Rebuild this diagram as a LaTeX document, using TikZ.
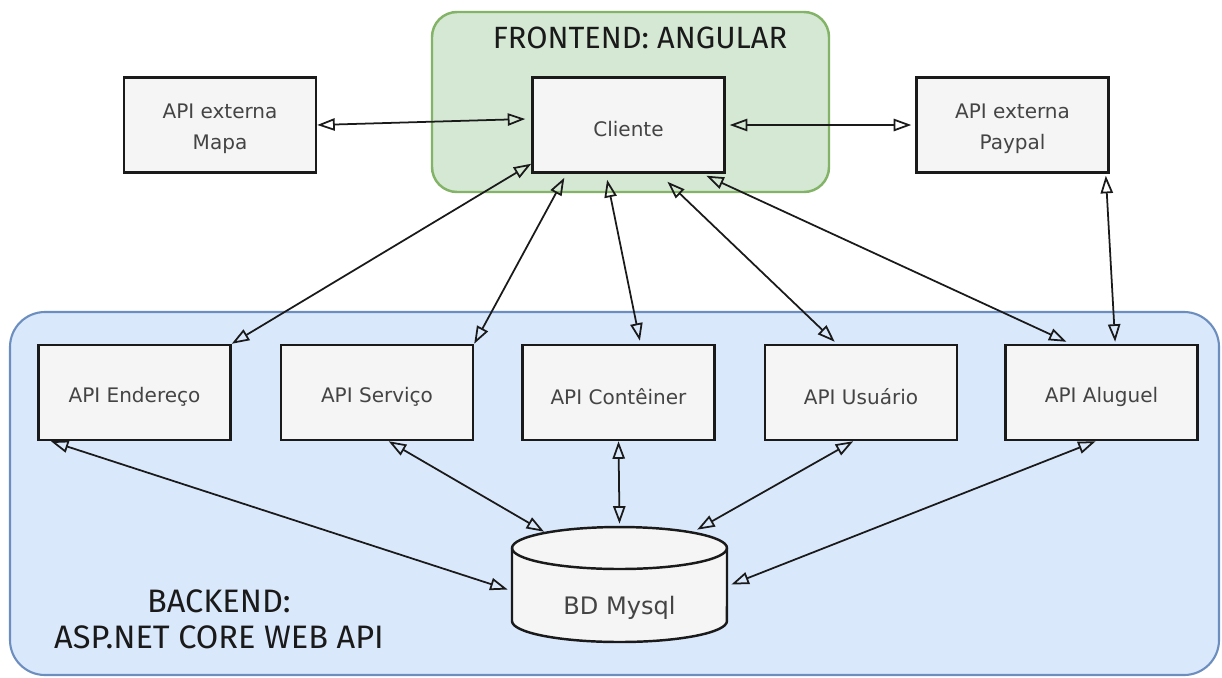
\documentclass[tikz,border=0pt]{standalone}
\usepackage{fontspec}
\setmainfont{DejaVu Sans}
\newfontfamily\handfont{Fira Sans}
\usetikzlibrary{arrows.meta,calc}
\definecolor{grfill}{HTML}{D5E8D4}
\definecolor{grline}{HTML}{82B366}
\definecolor{blfill}{HTML}{DAE8FC}
\definecolor{blline}{HTML}{6C8EBF}
\definecolor{boxfill}{HTML}{F5F5F5}
\definecolor{txt}{HTML}{444444}
\definecolor{ink}{HTML}{1A1A1A}
\tikzset{
  apibox/.style={draw=ink, fill=boxfill, line width=1.4pt, minimum width=3.84cm, minimum height=1.9cm,
    inner sep=0pt, align=center, text=txt, font=\fontsize{11.4pt}{17.6pt}\selectfont},
  boxtext/.style={text=txt, align=center, inner sep=0pt, font=\fontsize{11.4pt}{17.6pt}\selectfont},
  conn/.style={draw=ink, line width=1pt, {Triangle[open,length=10pt,width=7pt]}-{Triangle[open,length=10pt,width=7pt]}},
  title/.style={font=\handfont\fontsize{17.5pt}{20pt}\selectfont, text=ink, align=center, inner sep=0pt},
}
\begin{document}
\begin{tikzpicture}[x=0.02cm,y=-0.02cm]
\useasboundingbox (0,0) rectangle (1222,677);
% containers
\draw[fill=blfill, draw=blline, line width=1.2pt, rounded corners=0.7cm] (10,312) rectangle (1219,675);
\draw[fill=grfill, draw=grline, line width=1.4pt, rounded corners=0.5cm] (432,12) rectangle (829,192);
\node[title] (ftitle) at (640,38) {FRONTEND: ANGULAR};
\node[title, font=\handfont\fontsize{18.5pt}{20.5pt}\selectfont] (btitle) at (219,619) {BACKEND:\\ASP.NET CORE WEB API};
% boxes
\node[apibox] (cli) at (628.5,125) {};
\node[apibox] (mapa) at (220,125) {};
\node[apibox] (paypal) at (1012.5,125) {};
\node[apibox] (end) at (134.5,392.5) {};
\node[apibox] (serv) at (377,392.5) {};
\node[apibox] (cont) at (618.5,392.5) {};
\node[apibox] (usu) at (861,392.5) {};
\node[apibox] (alu) at (1101.5,392.5) {};
\node[boxtext] (clit) at ($(cli)+(0,4)$) {Cliente};
\node[boxtext] (mapat) at ($(mapa)+(0,4)$) {API externa\\Mapa};
\node[boxtext] (paypalt) at ($(paypal)+(0,4)$) {API externa\\Paypal};
\node[boxtext] (endt) at ($(end)+(0,4)$) {API Endereço};
\node[boxtext] (servt) at ($(serv)+(0,4)$) {API Serviço};
\node[boxtext] (contt) at ($(cont)+(0,4)$) {API Contêiner};
\node[boxtext] (usut) at ($(usu)+(0,4)$) {API Usuário};
\node[boxtext] (alut) at ($(alu)+(0,4)$) {API Aluguel};
% database cylinder
\path[fill=boxfill, draw=ink, line width=1.4pt] (512,548) -- (512,621) arc[start angle=180, end angle=360, x radius=2.15cm, y radius=0.42cm] -- (727,548) arc[start angle=0, end angle=180, x radius=2.15cm, y radius=0.42cm] -- cycle;
\draw[ink, line width=1.4pt] (512,548) arc[start angle=180, end angle=360, x radius=2.15cm, y radius=0.42cm];
\node[minimum width=4.3cm, minimum height=2.3cm, inner sep=0pt] (bd) at (619.5,584.5) {};
\node[text=txt, font=\fontsize{13.7pt}{16pt}\selectfont] (bdlabel) at (619.5,608) {BD Mysql};
% connectors
\draw[conn] (mapa.east) -- ($(cli.west)+(-6,-6)$);
\draw[conn] ($(cli.east)+(4,0)$) -- ($(paypal.west)+(-4,0)$);
\draw[conn] ($(cli.south west)+(0,-10)$) -- (end.north east);
\draw[conn] ($(cli.south west)!0.17!(cli.south east)+(0,4)$) -- (serv.north east);
\draw[conn] ($(cli.south west)!0.39!(cli.south east)+(0,6)$) -- ($(cont.north west)!0.61!(cont.north east)+(0,-3)$);
\draw[conn] ($(cli.south west)!0.70!(cli.south east)+(0,8)$) -- ($(usu.north west)!0.365!(usu.north east)+(0,-2)$);
\draw[conn] ($(cli.south west)!0.90!(cli.south east)+(0,2)$) -- ($(alu.north west)!0.32!(alu.north east)+(0,-2)$);
\draw[conn] ($(paypal.south west)!0.98!(paypal.south east)+(0,2)$) -- ($(alu.north west)!0.57!(alu.north east)+(0,-2)$);
\draw[conn] ($(end.south west)!0.07!(end.south east)$) -- ($(bd.west)+(-4,5)$);
\draw[conn] ($(serv.south west)!0.56!(serv.south east)$) -- ($(bd.north west)!0.15!(bd.north east)+(0,5)$);
\draw[conn] (cont.south) -- ($(bd.north)+(0,-3)$);
\draw[conn] ($(usu.south west)!0.46!(usu.south east)$) -- ($(bd.north west)!0.86!(bd.north east)+(0,3)$);
\draw[conn] ($(alu.south west)!0.47!(alu.south east)$) -- ($(bd.east)+(4,0)$);
\end{tikzpicture}
\end{document}
